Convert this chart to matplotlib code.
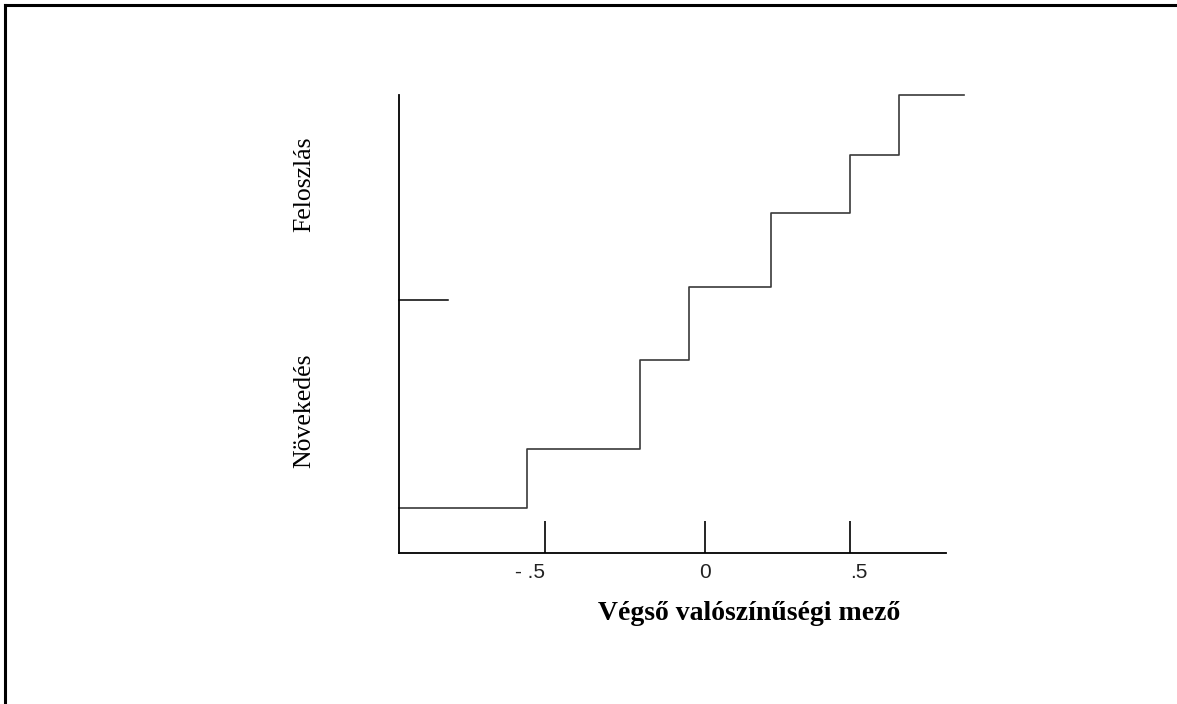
import matplotlib.pyplot as plt
from matplotlib.lines import Line2D

# step edges (x) and levels (y, 0 = x axis, 1 = top of y axis)
step_x = [-1.0, -0.582, -0.213, -0.053, 0.214, 0.472, 0.632, 0.845]
step_y = [0.098, 0.227, 0.421, 0.581, 0.742, 0.869, 1.0, 1.0]

# short marker line on the y axis
split_x = [-1.0, -0.84]
split_y = [0.552, 0.552]

tick_pos = [-0.523, 0.0, 0.472]
tick_labels = ['- .5', '0', '.5']

xlabel = 'Végső valószínűségi mező'
ylabel_top = 'Feloszlás'
ylabel_bottom = 'Növekedés'

fig = plt.figure(figsize=(11.77, 7.04), dpi=100)
ax = fig.add_axes([0.339, 0.2145, 0.4647, 0.6506])

ax.step(step_x, step_y, where='post', color='#3a3a3a', lw=1.2, clip_on=False)
ax.plot(split_x, split_y, color='black', lw=1.1, clip_on=False)

ax.set_xlim(-1.0, 0.786)
ax.set_ylim(0, 1)
for s in ['top', 'right']:
    ax.spines[s].set_visible(False)
for s in ['left', 'bottom']:
    ax.spines[s].set_linewidth(1.3)

ax.set_yticks([])
ax.set_xticks(tick_pos)
ax.set_xticklabels(tick_labels, fontsize=15, family='Liberation Sans', color='#222222')
ax.tick_params(axis='x', direction='in', length=23, width=1.2, pad=7)
labs = ax.get_xticklabels()
labs[0].set_ha('right')
labs[2].set_ha('left')

ax.set_xlabel(xlabel, fontsize=20, family='Liberation Serif', fontweight='bold')
ax.xaxis.set_label_coords(0.640, -0.133)
ax.xaxis.label.set_va('center')

ax.text(-0.174, 0.805, ylabel_top, transform=ax.transAxes, rotation=90,
        ha='center', va='center', fontsize=18.5, family='Liberation Serif')
ax.text(-0.174, 0.31, ylabel_bottom, transform=ax.transAxes, rotation=90,
        ha='center', va='center', fontsize=18.5, family='Liberation Serif')

# page frame (top and left edges)
fig.add_artist(Line2D([5 / 1177, 1.0], [1 - 5 / 704, 1 - 5 / 704], color='black', lw=2.2))
fig.add_artist(Line2D([5 / 1177, 5 / 1177], [0, 1 - 5 / 704], color='black', lw=2.2))

fig.savefig('out.png', dpi=100)
